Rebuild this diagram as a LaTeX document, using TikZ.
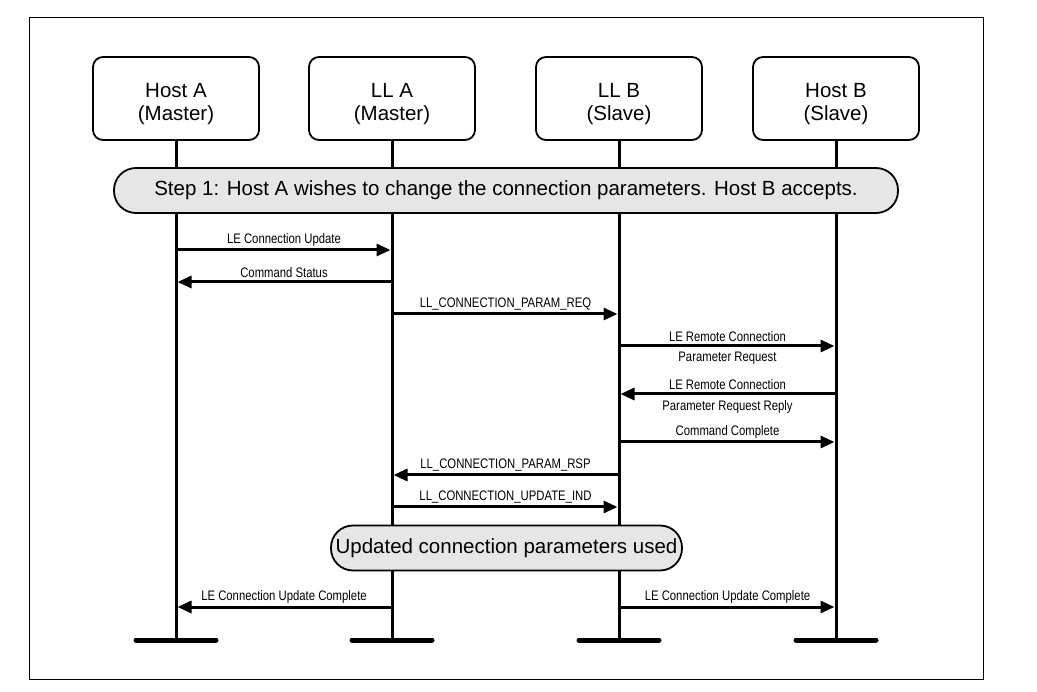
\documentclass[tikz,border=0pt]{standalone}
\usepackage{fontspec}
\setmainfont{Liberation Sans}
\newfontfamily\narrowfont[FakeStretch=0.82]{Liberation Sans}
\usetikzlibrary{arrows.meta,positioning}
\definecolor{pillgray}{HTML}{E6E6E6}
\newcommand{\topstrut}{\rule{0pt}{25pt}}

\begin{document}
\begin{tikzpicture}[x=1pt, y=-1pt]
\tikzstyle{every node} = [inner sep=0pt]
\tikzstyle{party} = [draw, line width=1.8pt, rounded corners=10pt, minimum width=166pt, minimum height=83pt, align=center, font=\fontsize{20.5}{23}\selectfont]
\tikzstyle{pill} = [draw, line width=1.8pt, fill=pillgray, rounded corners=22pt, minimum height=45pt, font=\fontsize{20.5}{24}\selectfont]
\tikzstyle{life} = [line width=3pt]
\tikzstyle{msg} = [line width=3pt, -{Triangle[length=14pt,width=12pt]}, shorten >=1.5pt]
\tikzstyle{lbl} = [font=\narrowfont\fontsize{13.8}{15}\selectfont, inner sep=2.5pt]
\tikzstyle{bar} = [line width=5pt, line cap=round]

\useasboundingbox (0,0) rectangle (1037,692);
\draw[line width=1pt] (29,18) rectangle (983,679);

% parties
\node[party] (hA) at (176,98.5) {\topstrut Host A\\(Master)};
\node[party] (llA) at (392,98.5) {\topstrut LL A\\(Master)};
\node[party] (llB) at (619,98.5) {\topstrut LL B\\(Slave)};
\node[party] (hB) at (836,98.5) {\topstrut Host B\\(Slave)};

% lifelines
\coordinate (hAe) at (176,640);
\coordinate (llAe) at (392,640);
\coordinate (llBe) at (619,640);
\coordinate (hBe) at (836,640);
\draw[life] (hA) -- (hAe);
\draw[life] (llA) -- (llAe);
\draw[life] (llB) -- (llBe);
\draw[life] (hB) -- (hBe);
\draw[bar] ([xshift=-40pt]hAe) -- ([xshift=40pt]hAe);
\draw[bar] ([xshift=-40pt]llAe) -- ([xshift=40pt]llAe);
\draw[bar] ([xshift=-40pt]llBe) -- ([xshift=40pt]llBe);
\draw[bar] ([xshift=-40pt]hBe) -- ([xshift=40pt]hBe);

% steps
\node[pill, minimum width=784pt] (step) at (506,190.5) {Step 1: Host A wishes to change the connection parameters. Host B accepts.};
\node[pill, minimum width=351pt] (used) at (506.5,548) {Updated connection parameters used};

% messages
\coordinate (r1) at (0,250);
\coordinate (r2) at (0,282);
\coordinate (r3) at (0,314);
\coordinate (r4) at (0,346);
\coordinate (r5) at (0,394);
\coordinate (r6) at (0,442);
\coordinate (r7) at (0,475);
\coordinate (r8) at (0,507);
\coordinate (r9) at (0,607);
\draw[msg] (hA |- r1) -- (llA |- r1) node[midway, above, lbl] {LE Connection Update};
\draw[msg] (llA |- r2) -- (hA |- r2) node[midway, above, lbl] {Command Status};
\draw[msg] (llA |- r3) -- (llB |- r3) node[midway, above, lbl] {LL\_CONNECTION\_PARAM\_REQ};
\draw[msg] (llB |- r4) -- (hB |- r4) node[midway, above, lbl] {LE Remote Connection}
  node[midway, below, lbl, inner sep=5pt] {Parameter Request};
\draw[msg] (hB |- r5) -- (llB |- r5) node[midway, above, lbl] {LE Remote Connection}
  node[midway, below, lbl, inner sep=5pt] {Parameter Request Reply};
\draw[msg] (llB |- r6) -- (hB |- r6) node[midway, above, lbl] {Command Complete};
\draw[msg] (llB |- r7) -- (llA |- r7) node[midway, above, lbl] {LL\_CONNECTION\_PARAM\_RSP};
\draw[msg] (llA |- r8) -- (llB |- r8) node[midway, above, lbl] {LL\_CONNECTION\_UPDATE\_IND};
\draw[msg] (llA |- r9) -- (hA |- r9) node[midway, above, lbl] {LE Connection Update Complete};
\draw[msg] (llB |- r9) -- (hB |- r9) node[midway, above, lbl] {LE Connection Update Complete};
\end{tikzpicture}
\end{document}
